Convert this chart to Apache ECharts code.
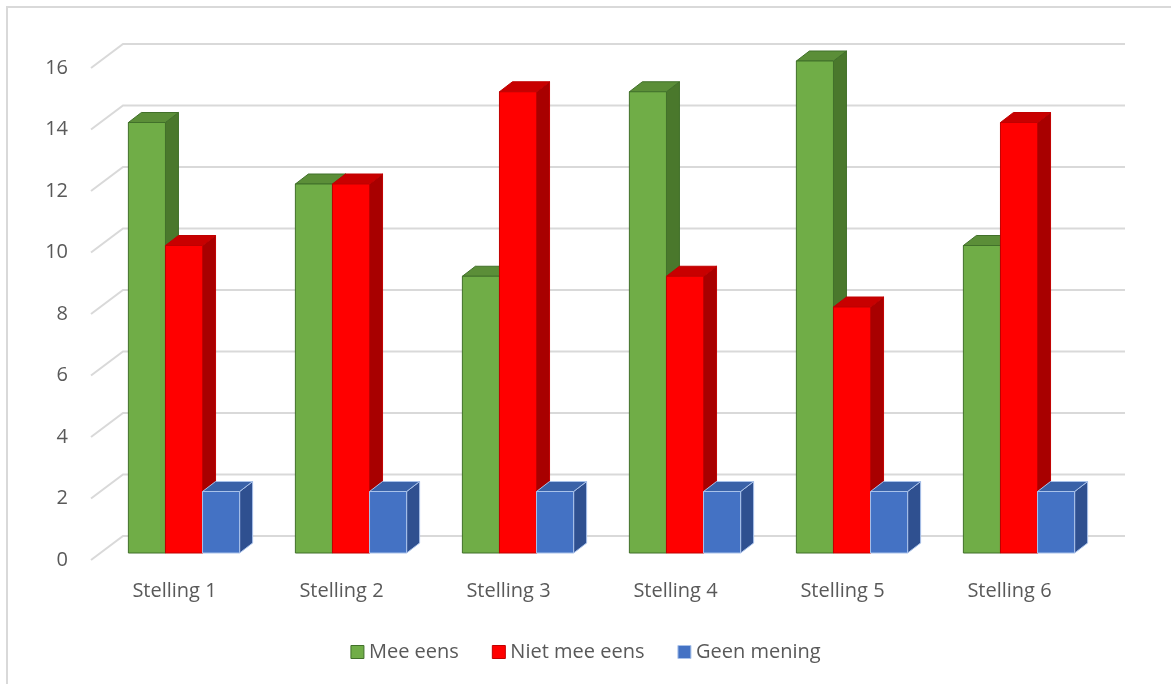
<!DOCTYPE html>
<html>
<head>
<meta charset="utf-8">
<script src="https://cdn.jsdelivr.net/npm/echarts@6/dist/echarts.min.js"></script>
<style>html,body{margin:0;padding:0;background:#fff;}#c{width:1171px;height:684px;}</style>
</head>
<body>
<div id="c"></div>
<script>
const categories = ['Stelling 1','Stelling 2','Stelling 3','Stelling 4','Stelling 5','Stelling 6'];
const meeEens = [14, 12, 9, 15, 16, 10];
const nietMeeEens = [10, 12, 15, 9, 8, 14];
const geenMening = [2, 2, 2, 2, 2, 2];
const yTicks = [0, 2, 4, 6, 8, 10, 12, 14, 16];

const FONT = '"Open Sans", Lato, sans-serif';
const TXT = '#595959';
const OX = 9.5, OY = -7;      // bar plane offset from front plane
const DX = 13, DY = -10;      // bar depth
const WX = 32, WY = -24;      // wall depth

const palettes = [
  {front:'#70ad47', side:'#4a782c', top:'#5b8e38', border:'#41702a'},
  {front:'#ff0000', side:'#a80000', top:'#c80000', border:'#c00000'},
  {front:'#4472c4', side:'#2f5090', top:'#3a62a8', border:'#a9c2ea'}
];

function barRender(idx){
  const p = palettes[idx];
  return function(params, api){
    const cat = api.value(0), v = api.value(1);
    const base = api.coord([cat, 0]);
    const top = api.coord([cat, v]);
    const bw = api.size([1, 0])[0] * 0.222;
    const x0 = base[0] + OX + (idx - 1.5) * bw;
    const yb = base[1] + OY, yt = top[1] + OY;
    const st = {lineWidth: 1, stroke: p.border};
    return {type:'group', children:[
      {type:'polygon', shape:{points:[[x0+bw,yt],[x0+bw+DX,yt+DY],[x0+bw+DX,yb+DY],[x0+bw,yb]]}, style:Object.assign({fill:p.side}, st)},
      {type:'polygon', shape:{points:[[x0,yt],[x0+DX,yt+DY],[x0+bw+DX,yt+DY],[x0+bw,yt]]}, style:Object.assign({fill:p.top}, st)},
      {type:'rect', shape:{x:x0, y:yt, width:bw, height:yb-yt}, style:Object.assign({fill:p.front}, st)}
    ]};
  };
}

function gridRender(params, api){
  const v = api.value(1);
  const pt = api.coord([0, v]);
  const cs = params.coordSys;
  const x0 = cs.x, y = pt[1];
  return {type:'polyline', shape:{points:[[x0, y],[x0+WX, y+WY],[x0+WX+cs.width, y+WY]]},
    style:{stroke:'#d9d9d9', lineWidth:2, fill:null}, silent:true};
}

const chart = echarts.init(document.getElementById('c'));
chart.setOption({
  animation:false,
  backgroundColor:'#fff',
  graphic:[{type:'rect', shape:{x:7, y:7, width:1300, height:800}, style:{fill:null, stroke:'#d9d9d9', lineWidth:2}, silent:true, z:-10}],
  grid:{left:91, right:78, top:68, bottom:124},
  xAxis:{type:'category', data:categories, axisLine:{show:false}, axisTick:{show:false},
    axisLabel:{margin:21, color:TXT, fontSize:20, fontFamily:FONT}, splitLine:{show:false}},
  yAxis:{type:'value', min:0, max:16, interval:2, axisLine:{show:false}, axisTick:{show:false},
    axisLabel:{margin:23, color:TXT, fontSize:20, fontFamily:FONT}, splitLine:{show:false}},
  legend:{top:637, left:'center', icon:'rect', itemWidth:13, itemHeight:13, itemGap:33,
    textStyle:{color:TXT, fontSize:20, fontFamily:FONT},
    data:[
      {name:'Mee eens', itemStyle:{color:palettes[0].front, borderColor:palettes[0].border, borderWidth:1}},
      {name:'Niet mee eens', itemStyle:{color:palettes[1].front, borderColor:palettes[1].border, borderWidth:1}},
      {name:'Geen mening', itemStyle:{color:palettes[2].front, borderColor:palettes[2].border, borderWidth:1}}
    ]},
  series:[
    {type:'custom', name:'grid', renderItem:gridRender, data:yTicks.map(v=>[0,v]), z:1, silent:true},
    {type:'custom', name:'Mee eens', renderItem:barRender(0), data:meeEens.map((v,i)=>[i,v]), z:2,
      itemStyle:{color:palettes[0].front, borderColor:palettes[0].border}},
    {type:'custom', name:'Niet mee eens', renderItem:barRender(1), data:nietMeeEens.map((v,i)=>[i,v]), z:2,
      itemStyle:{color:palettes[1].front, borderColor:palettes[1].border}},
    {type:'custom', name:'Geen mening', renderItem:barRender(2), data:geenMening.map((v,i)=>[i,v]), z:2,
      itemStyle:{color:palettes[2].front, borderColor:palettes[2].border}}
  ]
});
</script>
</body>
</html>
